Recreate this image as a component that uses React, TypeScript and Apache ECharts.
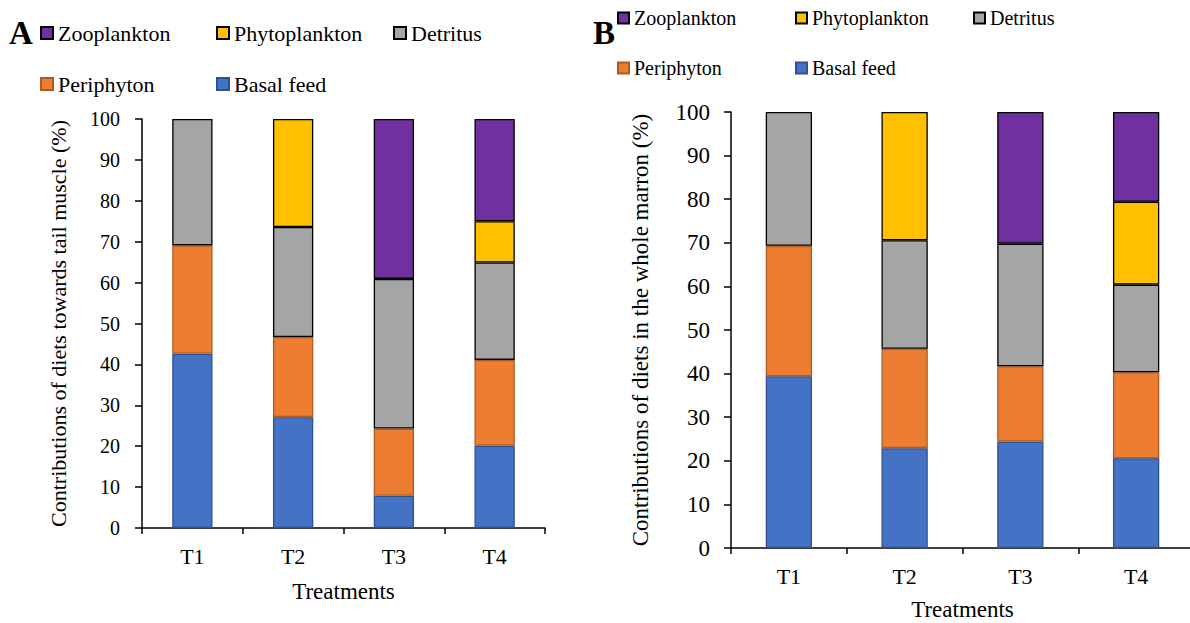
import React, { useEffect, useRef } from "react";
import * as echarts from "echarts";

const categories = ["T1", "T2", "T3", "T4"];
const seriesNames = ["Basal feed", "Periphyton", "Detritus", "Phytoplankton", "Zooplankton"];
const seriesColors = ["#4472C4", "#ED7D31", "#A5A5A5", "#FFC000", "#7030A0"];
const seriesBorders = ["#2F528F", "#AE5A21", "#000000", "#000000", "#000000"];

// Panel A: tail muscle (%)
const basalA = [42.6, 27.1, 7.9, 20.1];
const periphytonA = [26.5, 19.6, 16.4, 21.0];
const detritusA = [30.9, 26.9, 36.6, 23.8];
const phytoA = [null, 26.4, null, 10.1];
const zooA = [null, null, 39.1, 25.0];

// Panel B: whole marron (%)
const basalB = [39.4, 22.9, 24.4, 20.6];
const periphytonB = [29.9, 22.8, 17.3, 19.7];
const detritusB = [30.7, 24.9, 28.1, 20.1];
const phytoB = [null, 29.4, null, 19.0];
const zooB = [null, null, 30.2, 20.6];

const legendRow1 = ["Zooplankton", "Phytoplankton", "Detritus"];
const legendRow2 = ["Periphyton", "Basal feed"];

const FONT = "'Liberation Serif', 'Times New Roman', serif";

export default function App() {
  const ref = useRef<HTMLDivElement>(null);
  useEffect(() => {
    if (!ref.current) return;
    const chart = echarts.init(ref.current, null, { renderer: "svg" });
    const dataA = [basalA, periphytonA, detritusA, phytoA, zooA];
    const dataB = [basalB, periphytonB, detritusB, phytoB, zooB];
    const mk = (data: any[][], idx: number, stack: string) =>
      data.map((d, i) => ({
        name: seriesNames[i],
        type: "bar",
        stack,
        xAxisIndex: idx,
        yAxisIndex: idx,
        barWidth: "40%",
        data: d.map((v) => (v == null ? "-" : v)),
        itemStyle: { color: seriesColors[i], borderColor: seriesBorders[i], borderWidth: 1.3 },
      }));
    const xAxisBase = (gridIndex: number, nameGap: number) => ({
      type: "category",
      gridIndex,
      data: categories,
      name: "Treatments",
      nameLocation: "middle",
      nameGap,
      nameTextStyle: { fontFamily: FONT, fontSize: 23, color: "#000" },
      axisLine: { show: true, lineStyle: { color: "#000", width: 1.5 } },
      axisTick: { show: true, length: 6, lineStyle: { color: "#000", width: 1.5 } },
      axisLabel: { fontFamily: FONT, fontSize: 22, color: "#000", margin: 17 },
    });
    const yAxisBase = (gridIndex: number, name: string, labelSize: number, nameSize: number, nameGap: number, margin: number) => ({
      type: "value",
      gridIndex,
      min: 0,
      max: 100,
      interval: 10,
      name,
      nameLocation: "middle",
      nameGap,
      nameTextStyle: { fontFamily: FONT, fontSize: nameSize, color: "#000" },
      splitLine: { show: false },
      axisLine: { show: true, lineStyle: { color: "#000", width: 1.5 } },
      axisTick: { show: true, length: 7, lineStyle: { color: "#000", width: 1.5 } },
      axisLabel: { fontFamily: FONT, fontSize: labelSize, color: "#000", margin },
    });
    const legends: any[] = [];
    const addRow = (names: string[], lefts: number[], top: number, size: number, icon: number) => {
      names.forEach((n, i) => {
        legends.push({
          left: lefts[i],
          top,
          data: [n],
          icon: "rect",
          itemWidth: icon,
          itemHeight: icon,
          itemGap: 0,
          padding: 0,
          selectedMode: false,
          textStyle: { fontFamily: FONT, fontSize: size, color: "#000" },
        });
      });
    };
    addRow(legendRow1, [40, 216, 393], 22, 22, 12);
    addRow(legendRow2, [40, 216], 73, 22, 12);
    addRow(legendRow1, [617, 795, 973], 8, 20, 11);
    addRow(legendRow2, [617, 795], 58, 20, 11);

    chart.setOption({
      animation: false,
      backgroundColor: "#fff",
      textStyle: { fontFamily: FONT },
      grid: [
        { left: 142, right: 1190 - 545, top: 119, bottom: 623 - 528, outerBoundsMode: "none", containLabel: false },
        { left: 731, right: -4, top: 112, bottom: 623 - 548, outerBoundsMode: "none", containLabel: false },
      ],
      xAxis: [xAxisBase(0, 52), xAxisBase(1, 50)],
      yAxis: [
        yAxisBase(0, "Contributions of diets towards tail muscle (%)", 20, 22, 73, 22),
        yAxisBase(1, "Contributions of diets in the whole marron (%)", 23, 23, 79, 21),
      ],
      legend: legends,
      graphic: [
        { type: "text", left: 9, top: 16, style: { text: "A", font: `bold 33px ${FONT}`, fill: "#000" } },
        { type: "text", left: 593, top: 16, style: { text: "B", font: `bold 33px ${FONT}`, fill: "#000" } },
      ],
      series: [...mk(dataA, 0, "a"), ...mk(dataB, 1, "b")],
    });
    return () => chart.dispose();
  }, []);
  return <div ref={ref} style={{ position: "fixed", left: 0, top: 0, width: 1190, height: 623 }} />;
}
